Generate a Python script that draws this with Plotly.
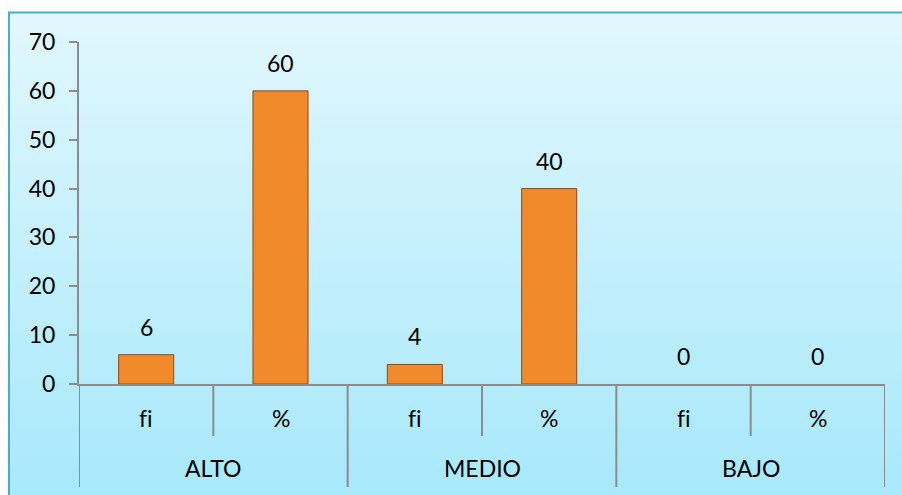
import base64
import plotly.graph_objects as go

# ---- data ----
groups = ["ALTO", "ALTO", "MEDIO", "MEDIO", "BAJO", "BAJO"]
measures = ["fi", "%", "fi", "%", "fi", "%"]
values = [6, 60, 4, 40, 0, 0]
outer_labels = ["ALTO", "MEDIO", "BAJO"]
y_ticks = [0, 10, 20, 30, 40, 50, 60, 70]

W, H = 902, 495
ML, MR, MT, MB = 79, 17, 42, 111
PW, PH = W - ML - MR, H - MT - MB

FONT = "Lato"
FS = 23
GREY = "#8C8C8C"

xs = list(range(len(values)))

fig = go.Figure()
fig.add_trace(go.Bar(
    x=xs, y=values, width=0.41,
    marker=dict(color="#F08A2A",
                line=dict(color="#8E4C16", width=[1 if v > 0 else 0 for v in values])),
    hoverinfo="skip",
))

# background frame (gradient) as svg image
svg = f'''<svg xmlns="http://www.w3.org/2000/svg" width="{W}" height="{H}" viewBox="0 0 {W} {H}">
<defs><linearGradient id="g" x1="0" y1="0" x2="0" y2="1">
<stop offset="0" stop-color="#E1F7FD"/><stop offset="1" stop-color="#A6E8FB"/></linearGradient></defs>
<rect x="0" y="0" width="{W}" height="{H}" fill="#FFFFFF"/>
<rect x="11" y="14" width="{W}" height="{H}" fill="#D8D8D8" opacity="0.6"/>
<rect x="9" y="12.5" width="{W}" height="{H}" fill="url(#g)" stroke="#4BACC6" stroke-width="2"/>
</svg>'''
src = "data:image/svg+xml;base64," + base64.b64encode(svg.encode()).decode()

shapes = []
# inner dividers (between fi and %)
for i in range(len(values) - 1):
    if groups[i] == groups[i + 1]:
        shapes.append(dict(type="line", xref="x", yref="paper", ysizemode="pixel", yanchor=0,
                           x0=i + 0.5, x1=i + 0.5, y0=0, y1=-52,
                           line=dict(color=GREY, width=2)))
# outer dividers
bounds = [-0.5] + [i + 0.5 for i in range(len(values) - 1) if groups[i] != groups[i + 1]] + [len(values) - 0.5]
for b in bounds:
    shapes.append(dict(type="line", xref="x", yref="paper", ysizemode="pixel", yanchor=0,
                       x0=b, x1=b, y0=0, y1=-103,
                       line=dict(color=GREY, width=2)))

def nolig(s):
    return s.replace("fi", "f\u200ci")

annotations = []
for i, v in enumerate(values):
    annotations.append(dict(x=i, y=v, xref="x", yref="y", text=str(v), showarrow=False,
                            yanchor="middle", yshift=28, font=dict(family=FONT, size=FS, color="#000")))
    annotations.append(dict(x=i, y=0, xref="x", yref="paper", text=nolig(measures[i]), showarrow=False,
                            yanchor="middle", yshift=-34, font=dict(family=FONT, size=FS, color="#000")))
for g in outer_labels:
    idx = [i for i, gg in enumerate(groups) if gg == g]
    cx = sum(idx) / len(idx)
    annotations.append(dict(x=cx, y=0, xref="x", yref="paper", text=g, showarrow=False,
                            yanchor="middle", yshift=-84, font=dict(family=FONT, size=FS, color="#000")))

fig.update_layout(
    width=W, height=H,
    margin=dict(l=ML, r=MR, t=MT, b=MB, pad=0),
    paper_bgcolor="rgba(0,0,0,0)",
    plot_bgcolor="#FFFFFF",
    showlegend=False,
    images=[dict(source=src, xref="paper", yref="paper", x=-ML / PW, y=1 + MT / PH,
                 sizex=W / PW, sizey=H / PH, xanchor="left", yanchor="top",
                 sizing="stretch", layer="below")],
    shapes=shapes,
    annotations=annotations,
    xaxis=dict(range=[-0.5, len(values) - 0.5], showticklabels=False, ticks="",
               showgrid=False, zeroline=False, showline=True, linecolor=GREY, linewidth=2,
               fixedrange=True),
    yaxis=dict(range=[0, 70], tickvals=y_ticks, ticks="outside", ticklen=8, tickwidth=2,
               tickcolor=GREY, showgrid=False, zeroline=False, showline=True, linecolor=GREY,
               linewidth=2, tickfont=dict(family=FONT, size=FS, color="#000"),
               ticklabelstandoff=9, fixedrange=True),
)

fig.write_html("out.html")
